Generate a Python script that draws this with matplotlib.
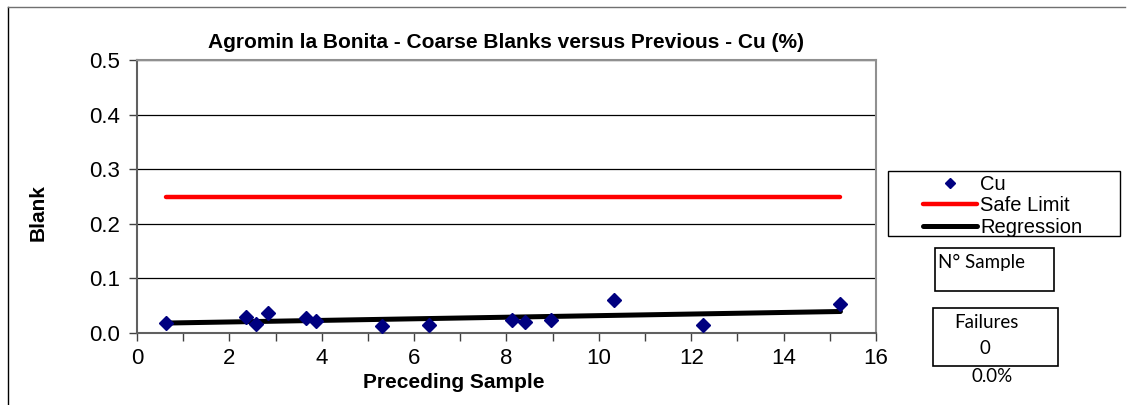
import numpy as np
import matplotlib
matplotlib.use("Agg")
import matplotlib.pyplot as plt
from matplotlib.lines import Line2D
from matplotlib.patches import Rectangle

plt.rcParams['font.family'] = ['Liberation Sans', 'DejaVu Sans']

# data
preceding = [0.62, 2.37, 2.57, 2.83, 3.66, 3.87, 5.30, 6.33, 8.12, 8.41, 8.97, 10.32, 12.25, 15.23]
blank = [0.018, 0.030, 0.017, 0.037, 0.027, 0.022, 0.013, 0.014, 0.023, 0.021, 0.023, 0.061, 0.014, 0.054]
safe_limit = 0.25
n_failures = 0

x = np.array(preceding)
y = np.array(blank)
slope, icpt = np.polyfit(x, y, 1)
xr = np.array([x.min(), x.max()])

W, H = 1132, 405
fig = plt.figure(figsize=(W/100, H/100), dpi=100)
ax = fig.add_axes([137/W, 1 - 333/H, (876-137)/W, (333-60)/H])

ax.plot(xr, [safe_limit, safe_limit], color='#ff0000', lw=3.2, solid_capstyle='round', label='Safe Limit', zorder=3)
ax.plot(xr, slope*xr + icpt, color='black', lw=3.6, solid_capstyle='round', label='Regression', zorder=4)
ax.plot(x, y, ls='none', marker='D', ms=7, color='#000080', label='Cu', zorder=5)

ax.set_xlim(0, 16)
ax.set_ylim(0, 0.5)
ax.set_xticks(np.arange(0, 17, 2))
ax.set_xticks(np.arange(0, 17, 1), minor=True)
ax.set_yticks(np.arange(0, 0.51, 0.1))
ax.set_yticklabels(['%.1f' % v for v in np.arange(0, 0.51, 0.1)])
ax.tick_params(axis='both', which='both', direction='out', length=6, width=1, labelsize=16, color='#404040')
ax.tick_params(axis='y', pad=6)
ax.tick_params(axis='x', pad=5)
ax.grid(axis='y', color='black', lw=0.9)
ax.set_axisbelow(True)
for s in ['top', 'right']:
    ax.spines[s].set_color('#909090')
    ax.spines[s].set_linewidth(1.5)
for s in ['left', 'bottom']:
    ax.spines[s].set_color('#606060')
    ax.spines[s].set_linewidth(1.5)

ax.set_title('Agromin la Bonita - Coarse Blanks versus Previous - Cu (%)', fontsize=15, fontweight='bold', pad=9)
ax.set_xlabel('Preceding Sample', fontsize=15, fontweight='bold')
ax.xaxis.set_label_coords((454-137)/(876-137), -(373-333)/(333-60))
ax.set_ylabel('Blank', fontsize=15, fontweight='bold')
ax.yaxis.set_label_coords((48-137)/(876-137), (333-213)/(333-60))

# legend with its own frame (wide left margin like the original)
h, l = ax.get_legend_handles_labels()
order = [2, 0, 1]
leg = fig.legend([h[i] for i in order], [l[i] for i in order], loc='upper left',
                 bbox_to_anchor=(923/W, 1 - 175/H), fontsize=14.5, frameon=False,
                 handlelength=2.7, handletextpad=0.15, labelspacing=0.12, markerscale=0.8,
                 borderpad=0, borderaxespad=0)
leg.set_zorder(10)
fig.patches.append(Rectangle((888/W, 1 - 236/H), (1120-888)/W, (236-171)/H,
                             transform=fig.transFigure, fill=False, edgecolor='black', lw=1.0))

box_font = ['Lato', 'DejaVu Sans']
fig.patches.append(Rectangle((935/W, 1 - 291/H), (1054-935)/W, (291-248)/H,
                             transform=fig.transFigure, fill=False, edgecolor='black', lw=1.2))
fig.text(938/W, 1 - 262/H, 'N° Sample', fontsize=13.5, family=box_font, va='center', ha='left')
fig.patches.append(Rectangle((933/W, 1 - 366/H), (1058-933)/W, (366-308)/H,
                             transform=fig.transFigure, fill=False, edgecolor='black', lw=1.2))
fig.text(986/W, 1 - 323/H, 'Failures', fontsize=13.5, family=box_font, va='center', ha='center')
fig.text(985/W, 1 - 349/H, str(n_failures), fontsize=13.5, family=box_font, va='center', ha='center')
fig.text(992/W, 1 - 377/H, '%.1f%%' % (100.0 * n_failures / len(preceding)), fontsize=13.5,
         family=box_font, va='center', ha='center')

# outer frame
fig.add_artist(Line2D([8/W, 8/W], [0, 1 - 7/H], transform=fig.transFigure, color='black', lw=1))
fig.add_artist(Line2D([8/W, 1125/W], [1 - 7/H, 1 - 7/H], transform=fig.transFigure, color='#707070', lw=1))

fig.savefig('out.png', dpi=100)
